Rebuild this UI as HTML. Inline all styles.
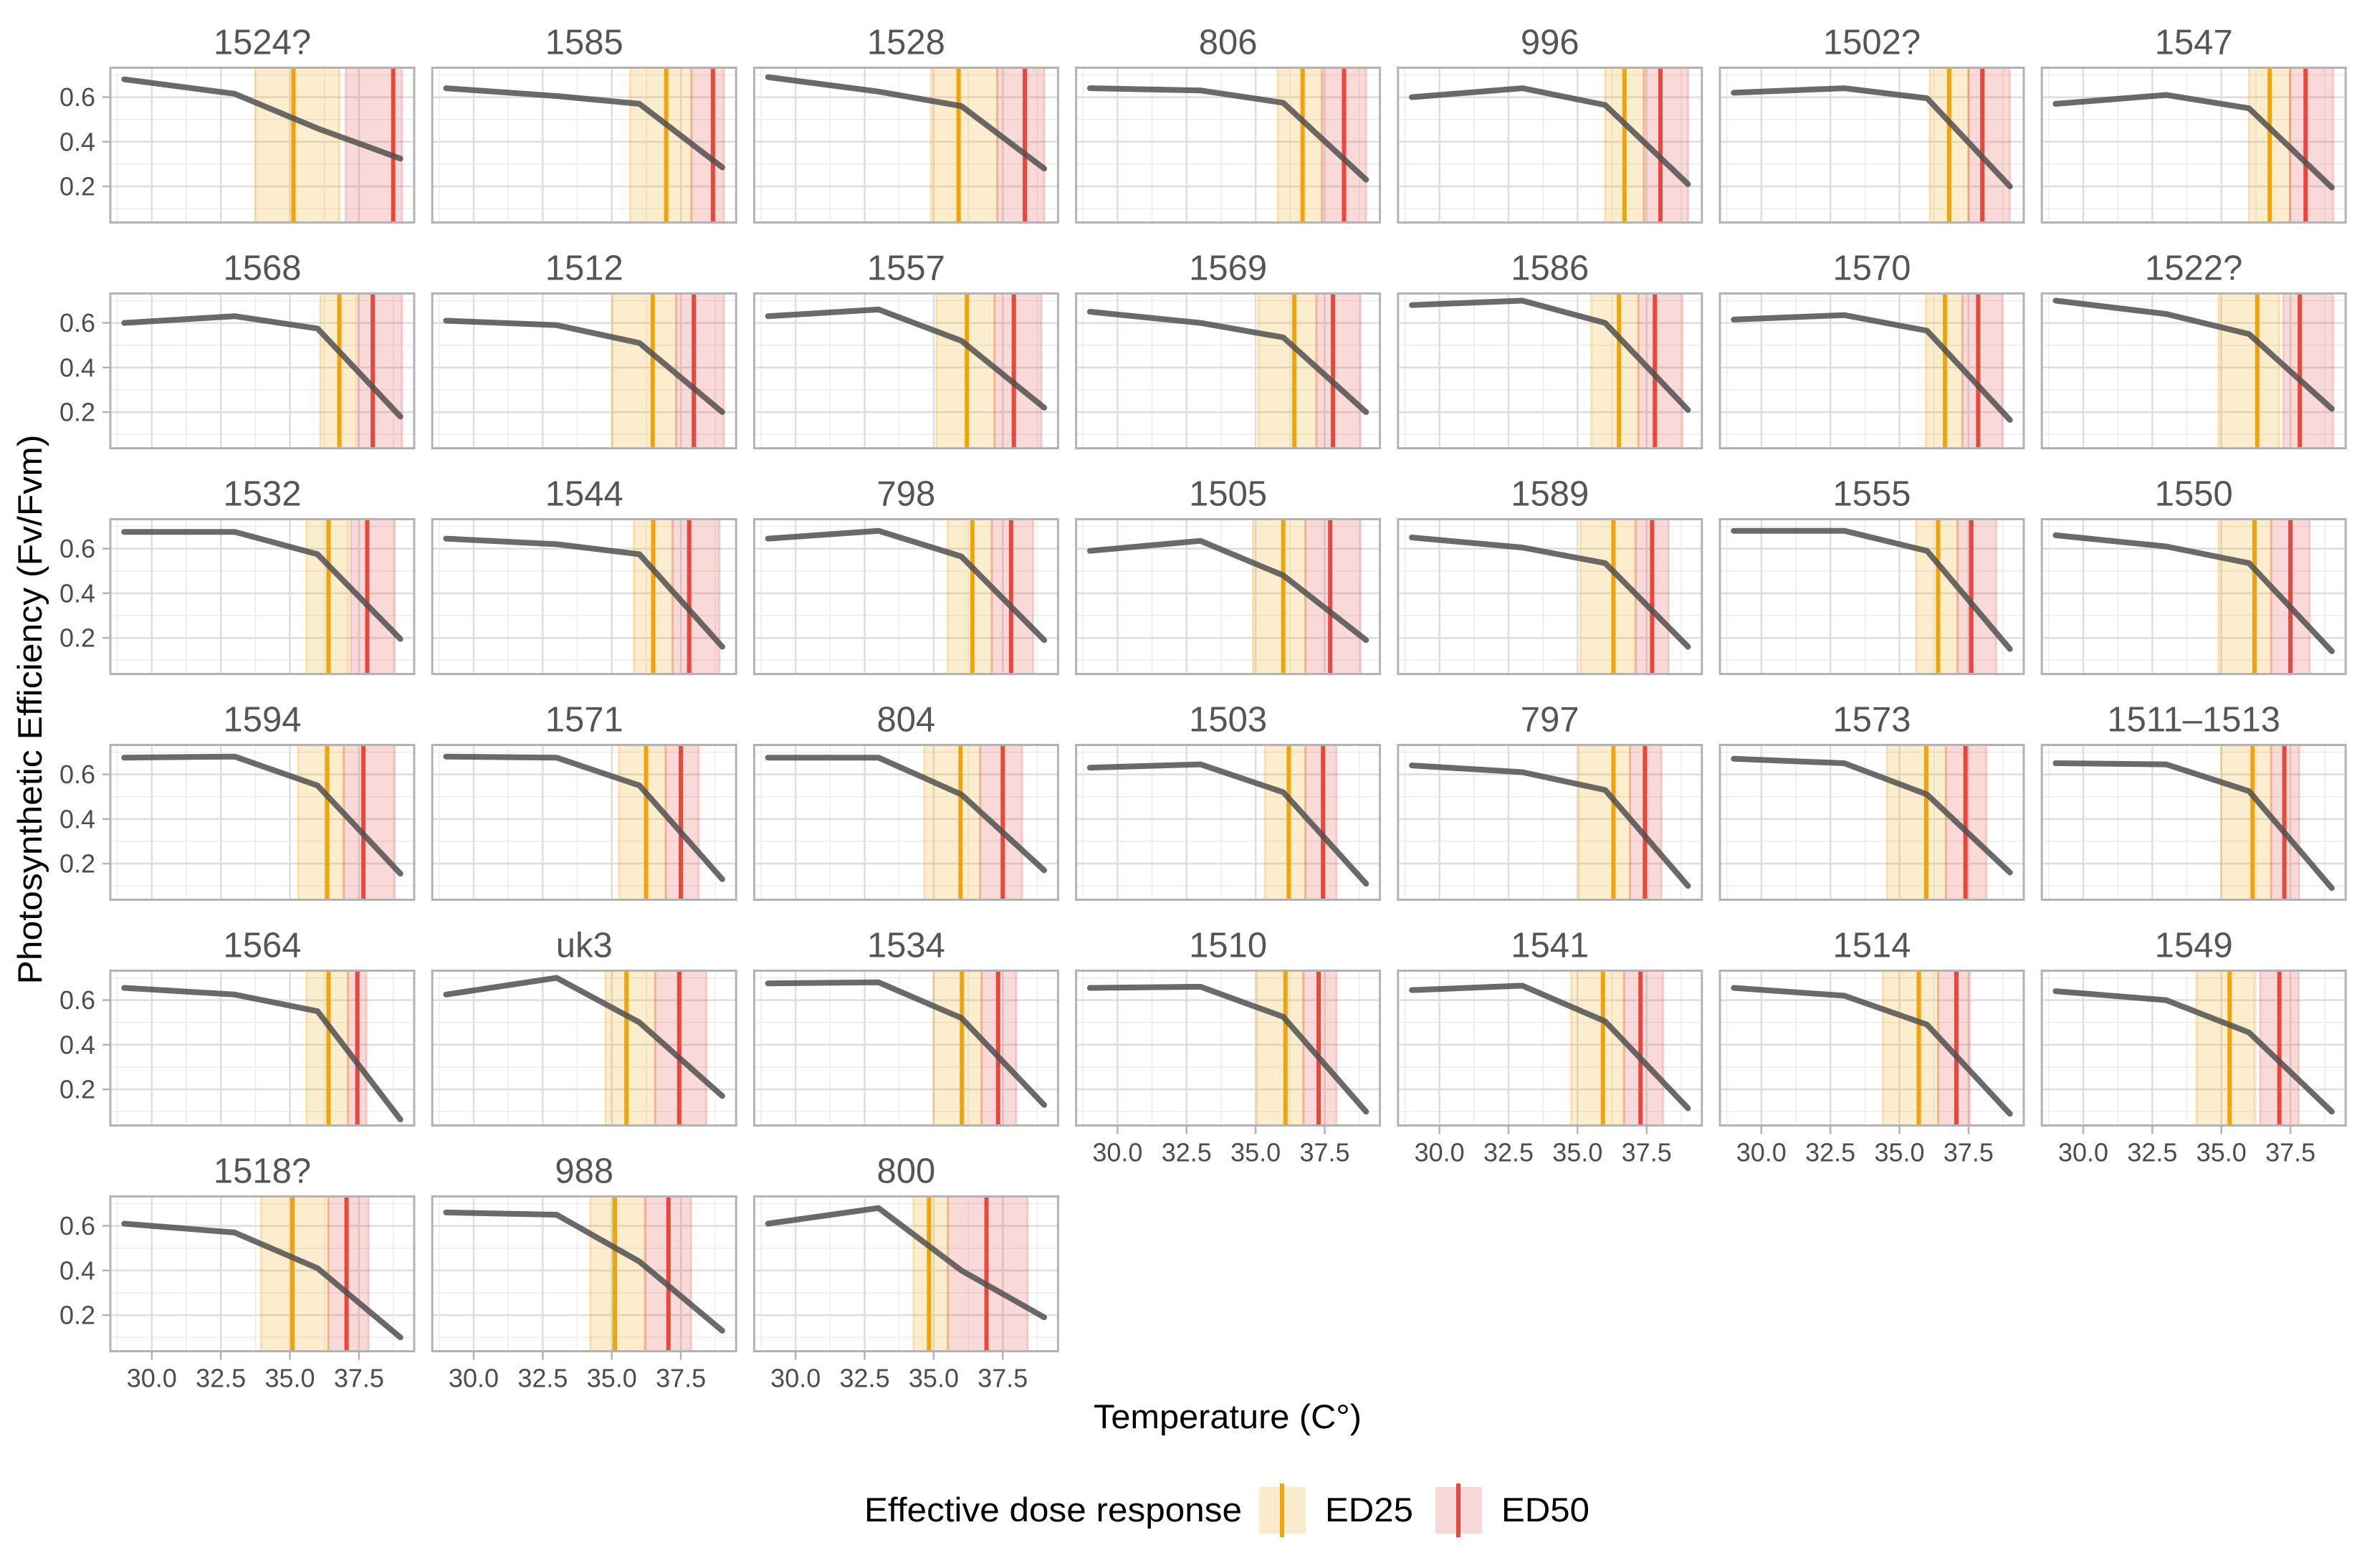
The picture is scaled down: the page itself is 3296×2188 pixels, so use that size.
<!DOCTYPE html>
<html><head><meta charset="utf-8"><title>Photosynthetic efficiency facets</title>
<style>html,body{margin:0;padding:0;background:#fff}svg{display:block}text{font-family:"Liberation Sans",Arial,sans-serif}</style>
</head><body>
<svg id="chart" width="3296" height="2188" viewBox="0 0 3296 2188" xmlns="http://www.w3.org/2000/svg">
<rect x="0" y="0" width="3296" height="2188" fill="#fff"/>
<g id="panels"></g>
<text x="1713" y="1993" font-size="47" text-anchor="middle" fill="#000" textLength="374" lengthAdjust="spacingAndGlyphs">Temperature (C°)</text>
<text x="0" y="0" font-size="47" text-anchor="middle" fill="#000" textLength="767" lengthAdjust="spacingAndGlyphs" transform="translate(58,990) rotate(-90)">Photosynthetic Efficiency (Fv/Fvm)</text>
<g>
<text x="1206" y="2123" font-size="47" fill="#000" textLength="527" lengthAdjust="spacingAndGlyphs">Effective dose response</text>
<rect x="1757" y="2075" width="65" height="65" fill="#fbebcd"/>
<line x1="1789" y1="2070" x2="1789" y2="2145" stroke="#f0a30a" stroke-width="6"/>
<text x="1849" y="2123" font-size="47" fill="#000" textLength="123" lengthAdjust="spacingAndGlyphs">ED25</text>
<rect x="2003" y="2075" width="65" height="65" fill="#f9d9d7"/>
<line x1="2035" y1="2070" x2="2035" y2="2145" stroke="#e8473b" stroke-width="6"/>
<text x="2095" y="2123" font-size="47" fill="#000" textLength="123" lengthAdjust="spacingAndGlyphs">ED50</text>
</g>
</svg>
<script>
const panelNames = ["1524?","1585","1528","806","996","1502?","1547","1568","1512","1557","1569","1586","1570","1522?","1532","1544","798","1505","1589","1555","1550","1594","1571","804","1503","797","1573","1511–1513","1564","uk3","1534","1510","1541","1514","1549","1518?","988","800"];
const temps = [29, 33, 36, 39];
const efficiency = [
[.68,.615,.46,.325],[.64,.605,.57,.285],[.69,.625,.56,.28],[.64,.63,.575,.23],[.60,.64,.565,.21],[.62,.64,.595,.20],[.57,.61,.55,.195],
[.60,.63,.575,.18],[.61,.59,.51,.20],[.63,.66,.52,.22],[.65,.60,.535,.20],[.68,.70,.60,.21],[.615,.635,.565,.165],[.70,.64,.55,.215],
[.675,.675,.575,.195],[.645,.62,.575,.16],[.645,.68,.565,.19],[.59,.635,.48,.19],[.65,.605,.535,.16],[.68,.68,.59,.15],[.66,.61,.535,.14],
[.675,.68,.55,.155],[.68,.675,.55,.13],[.675,.675,.51,.17],[.63,.645,.52,.11],[.64,.61,.53,.10],[.67,.65,.51,.16],[.65,.645,.525,.09],
[.655,.625,.55,.065],[.625,.70,.50,.17],[.675,.68,.52,.13],[.655,.66,.525,.10],[.645,.665,.505,.115],[.655,.62,.49,.09],[.64,.60,.455,.10],
[.61,.57,.41,.10],[.66,.65,.44,.13],[.61,.68,.40,.19]];
const ed25 = [35.13,36.97,35.9,36.7,36.7,36.8,36.75,36.79,36.48,36.2,36.4,36.5,36.65,36.3,36.4,36.5,36.4,36.0,36.3,36.4,36.2,36.35,36.24,35.97,36.2,36.3,35.97,36.13,36.4,35.53,36.02,36.08,35.92,35.7,35.3,35.09,35.11,34.83];
const ed25Low = [33.74,35.66,34.9,35.8,36.0,36.1,36.0,36.1,35.02,35.1,35.1,35.5,35.96,34.9,35.6,35.8,35.5,34.9,35.1,35.6,34.9,35.3,35.26,34.66,35.34,35.04,34.55,34.99,35.6,34.77,34.99,35.04,34.77,34.4,34.1,33.95,34.22,34.27];
const ed25High = [36.79,37.88,37.3,37.4,37.4,37.5,37.48,37.39,37.33,37.2,37.2,37.2,37.28,37.1,37.1,37.2,37.1,36.8,37.1,37.1,36.8,36.95,36.95,36.68,36.8,36.9,36.68,36.8,37.1,36.57,36.73,36.73,36.68,36.4,36.2,36.39,36.2,35.51];
const ed50 = [38.74,38.66,38.3,38.2,38.0,38.0,38.05,38.0,37.97,37.9,37.8,37.8,37.85,37.84,37.8,37.8,37.8,37.7,37.7,37.6,37.5,37.66,37.5,37.5,37.44,37.44,37.39,37.28,37.44,37.44,37.33,37.28,37.28,37.06,37.1,37.05,37.05,36.91];
const ed50Low = [37.02,37.88,37.3,37.4,37.4,37.5,37.48,37.46,37.33,37.2,37.2,37.2,37.28,37.24,37.2,37.2,37.1,36.8,37.1,37.1,36.8,36.95,36.95,36.68,36.8,36.9,36.68,36.8,37.1,36.57,36.73,36.73,36.68,36.4,36.4,36.39,36.2,35.51];
const ed50High = [39.06,39.06,39.0,39.0,39.0,39.0,39.05,39.06,39.06,38.9,38.8,38.8,38.73,39.05,38.8,38.9,38.6,38.8,38.3,38.5,38.2,38.8,38.15,38.2,37.93,38.04,38.15,37.82,37.77,38.42,37.99,37.93,38.1,37.55,37.8,37.85,37.87,38.4];
const xTicks = [30, 32.5, 35, 37.5];
const xTickLabels = ["30.0","32.5","35.0","37.5"];
const yTicks = [0.2, 0.4, 0.6];
const yTickLabels = ["0.2","0.4","0.6"];

const NS = "http://www.w3.org/2000/svg";
const X0 = 154, PW = 424, PITCH_X = 449.2, Y0 = 94.5, PH = 216, PITCH_Y = 315;
const XMIN = 28.5, XMAX = 39.5, YMIN = 0.038, YMAX = 0.732;
function sx(v, left){ return left + (v - XMIN) / (XMAX - XMIN) * PW; }
function sy(v, top){ return top + (YMAX - v) / (YMAX - YMIN) * PH; }
function mk(tag, attrs, parent){ const e = document.createElementNS(NS, tag); for (const k in attrs) e.setAttribute(k, attrs[k]); parent.appendChild(e); return e; }
const root = document.getElementById("panels");
const n = panelNames.length;
for (let i = 0; i < n; i++) {
  const r = Math.floor(i / 7), c = i % 7;
  const left = X0 + c * PITCH_X, top = Y0 + r * PITCH_Y;
  const g = mk("g", {}, root);
  
  
  const title = mk("text", {x: left + PW/2, y: top - 19, "font-size": 49, "text-anchor": "middle", fill: "#555"}, g);
  title.textContent = panelNames[i];
  
  
  for (let v = 28.75; v < XMAX; v += 2.5) mk("line", {x1: sx(v,left), x2: sx(v,left), y1: top, y2: top+PH, stroke: "#ececec", "stroke-width": 1.5}, g);
  for (let v = 0.1; v < YMAX; v += 0.2) mk("line", {x1: left, x2: left+PW, y1: sy(v,top), y2: sy(v,top), stroke: "#ececec", "stroke-width": 1.5}, g);
  xTicks.forEach(v => mk("line", {x1: sx(v,left), x2: sx(v,left), y1: top, y2: top+PH, stroke: "#dedede", "stroke-width": 2.5}, g));
  yTicks.forEach(v => mk("line", {x1: left, x2: left+PW, y1: sy(v,top), y2: sy(v,top), stroke: "#dedede", "stroke-width": 2.5}, g));
  const b25 = mk("rect", {x: sx(ed25Low[i],left), y: top, width: sx(ed25High[i],left)-sx(ed25Low[i],left), height: PH, fill: "rgba(240,163,10,0.2)", stroke: "rgba(240,163,10,0.25)", "stroke-width": 3}, g);
  
  
  const b50 = mk("rect", {x: sx(ed50Low[i],left), y: top, width: sx(ed50High[i],left)-sx(ed50Low[i],left), height: PH, fill: "rgba(232,71,59,0.2)", stroke: "rgba(232,71,59,0.2)", "stroke-width": 3}, g);
  
  
  const l25 = mk("line", {x1: sx(ed25[i],left), x2: sx(ed25[i],left), y1: top, y2: top+PH, stroke: "#f0a30a", "stroke-width": 6}, g);
  
  
  const l50 = mk("line", {x1: sx(ed50[i],left), x2: sx(ed50[i],left), y1: top, y2: top+PH, stroke: "#e8473b", "stroke-width": 6}, g);
  
  
  const pts = temps.map((t, k) => sx(t,left).toFixed(1) + "," + sy(efficiency[i][k],top).toFixed(1)).join(" ");
  const pl = mk("polyline", {points: pts, fill: "none", stroke: "rgba(80,80,80,0.85)", "stroke-width": 8, "stroke-linejoin": "round", "stroke-linecap": "round"}, g);
  
  
  mk("rect", {x: left, y: top, width: PW, height: PH, fill: "none", stroke: "#b3b3b3", "stroke-width": 3}, g);
  if (c === 0) {
    yTicks.forEach((v, k) => {
      mk("line", {x1: left-11, x2: left, y1: sy(v,top), y2: sy(v,top), stroke: "#b3b3b3", "stroke-width": 2.5}, g);
      const t = mk("text", {x: left-21, y: sy(v,top)+12.5, "font-size": 36, "text-anchor": "end", fill: "#4d4d4d"}, g);
      t.textContent = yTickLabels[k];
      
      
    });
  }
  if (i + 7 >= n) {
    xTicks.forEach((v, k) => {
      mk("line", {x1: sx(v,left), x2: sx(v,left), y1: top+PH, y2: top+PH+12, stroke: "#b3b3b3", "stroke-width": 2.5}, g);
      const t = mk("text", {x: sx(v,left), y: top+PH+50, "font-size": 36, "text-anchor": "middle", fill: "#4d4d4d"}, g);
      t.textContent = xTickLabels[k];
      
      
    });
  }
}
</script>
</body></html>
